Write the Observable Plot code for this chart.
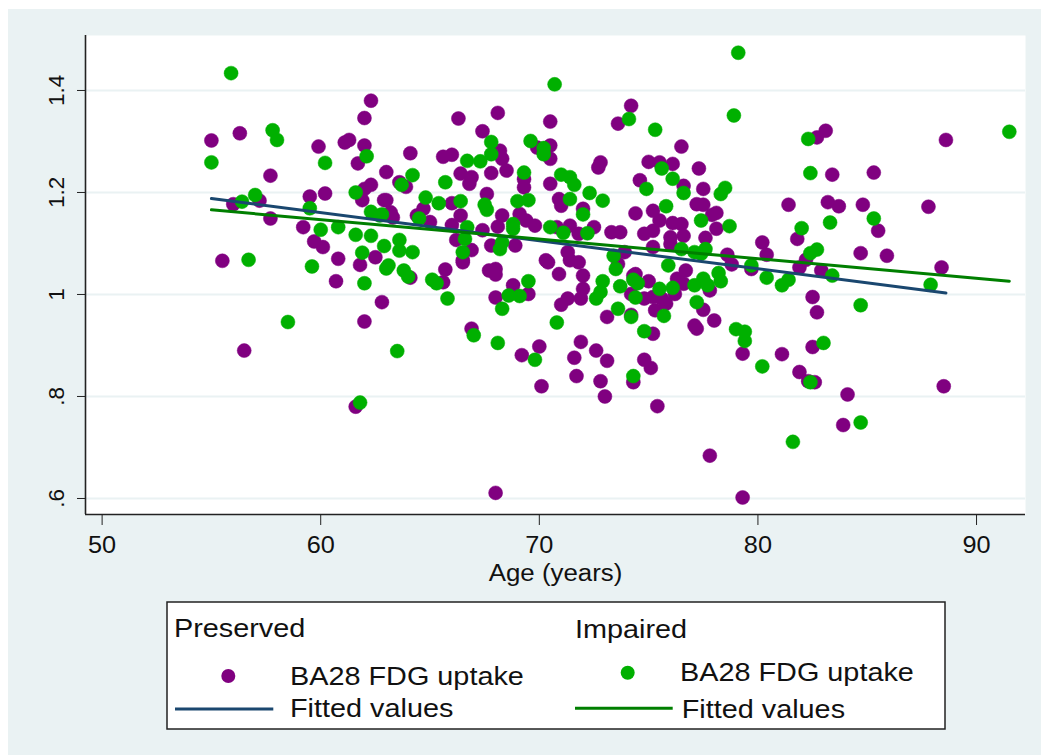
<!DOCTYPE html>
<html>
<head>
<meta charset="utf-8">
<script src="https://cdn.jsdelivr.net/npm/d3@7"></script>
<script src="https://cdn.jsdelivr.net/npm/@observablehq/plot@0.6"></script>
<style>
  html, body { margin: 0; padding: 0; background: #ffffff; }
  #bg { position: absolute; left: 8px; top: 9px; width: 1033px; height: 746px; background: #eaf2f3; }
  #chart { position: absolute; left: 0; top: 0; }
  #legend { position: absolute; left: 0; top: 590px; }
  text { font-family: "Liberation Sans", Arial, sans-serif; }
</style>
</head>
<body>
<div id="bg"></div>
<div id="chart"></div>
<div id="legend"></div>
<script>
// ---------------- DATA ----------------
// Preserved group: age (years) and BA28 FDG uptake
const preservedAge = [
  55.0,56.3,59.9,61.1,61.3,62.0,62.3,62.0,61.7,57.7,63.0,63.6,62.3,62.0,60.2,59.5,61.9,62.9,56.0,57.2,
  57.7,63.2,59.2,59.7,60.1,60.8,62.5,61.8,55.5,60.7,62.8,62.0,56.5,61.6,64.1,65.7,65.6,66.5,67.7,68.0,
  68.0,68.8,69.5,68.0,66.9,69.2,70.0,70.1,68.0,70.4,70.9,71.4,71.8,72.0,72.0,71.9,71.3,71.0,73.1,71.9,
  71.6,72.6,73.1,71.7,72.8,73.0,73.6,74.3,74.4,74.2,74.2,75.0,74.8,75.2,75.6,75.8,75.3,76.2,75.2,74.8,
  75.1,74.3,75.4,76.7,76.6,76.3,77.1,77.2,77.8,77.5,78.0,79.3,81.1,81.9,82.6,82.3,82.5,82.5,82.7,84.1,
  83.9,77.8,79.3,88.5,88.4,79.7,78.8,81.9,82.9,83.1,82.7,88.6,76.5,77.3,83.4,85.3,76.6,77.5,77.5,78.1,
  77.9,81.4,83.2,83.7,84.8,87.8,85.5,78.1,76.5,76.6,77.6,80.2,81.8,80.4,84.7,85.9,82.2,78.6,74.2,73.6,
  66.3,68.1,70.5,67.4,70.5,69.9,70.5,64.1,65.6,66.0,68.2,68.3,68.5,63.9,66.4,66.9,66.8,67.8,67.6,69.3,
  69.3,70.5,72.7,72.8,75.0,75.5,76.1,74.6,64.7,64.4,66.0,66.4,66.0,65.0,68.3,69.1,69.4,69.8,70.9,71.0,
  72.0,70.8,71.4,71.8,72.5,73.3,73.7,74.4,75.2,75.5,76.1,74.8,75.2,76.0,66.2,66.9,66.5,67.4,67.8,68.1,
  68.9,63.0,63.3,70.3,71.3,73.9,75.2,76.0,77.2
];
const preservedUptake = [
  1.302,1.316,1.290,1.298,1.303,1.346,1.380,1.292,1.257,1.233,1.240,1.220,1.215,1.207,1.198,1.192,1.185,1.185,1.177,1.184,
  1.149,1.161,1.132,1.104,1.093,1.070,1.073,1.058,1.066,1.026,0.985,0.947,0.890,0.780,1.033,1.049,1.024,1.063,1.047,1.050,
  1.039,1.018,1.001,0.994,0.933,0.881,0.898,0.820,0.611,1.063,1.040,1.067,1.063,1.037,1.011,0.992,0.992,0.980,0.956,0.907,
  0.876,0.890,0.870,0.840,0.830,0.800,1.060,1.037,1.040,1.001,0.960,1.026,0.992,0.995,0.992,0.982,0.969,1.001,0.923,0.872,
  0.856,0.828,0.781,1.047,1.021,1.031,0.939,0.933,1.008,0.970,0.949,0.884,0.883,0.848,0.828,0.830,0.897,0.995,0.965,0.804,
  0.744,0.684,0.602,0.820,1.053,1.050,1.059,1.053,1.047,1.321,1.308,1.303,1.290,1.247,1.235,1.239,1.213,1.207,1.176,1.160,
  1.156,1.176,1.181,1.173,1.176,1.172,1.125,1.129,1.138,1.115,1.111,1.102,1.109,1.078,1.081,1.076,1.068,1.078,1.370,1.335,
  1.345,1.356,1.339,1.320,1.292,1.288,1.266,1.277,1.270,1.274,1.282,1.266,1.243,1.211,1.237,1.230,1.217,1.238,1.197,1.226,
  1.210,1.217,1.249,1.259,1.260,1.259,1.256,1.224,1.168,1.155,1.179,1.155,1.136,1.142,1.155,1.158,1.145,1.135,1.187,1.174,
  1.168,1.132,1.135,1.119,1.132,1.122,1.122,1.159,1.164,1.145,1.140,1.119,1.125,1.112,1.107,1.087,1.067,1.126,1.096,1.133,
  1.096,1.185,1.151,1.067,1.083,1.083,1.093,1.099,1.177
];
// Impaired group
const impairedAge = [
  55.9,57.8,58.0,62.1,55.0,60.2,63.7,61.6,57.0,56.4,59.5,62.3,62.8,60.0,60.8,61.6,62.3,62.9,61.9,56.7,
  59.6,63.0,63.1,62.0,63.6,63.6,58.5,63.5,61.8,63.8,64.0,65.1,65.3,65.8,69.5,68.6,69.1,68.3,67.0,68.1,
  69.8,70.8,72.9,72.8,72.6,73.7,73.5,74.3,74.5,74.4,73.6,74.2,75.5,76.1,75.7,74.8,74.3,77.1,77.2,75.9,
  77.5,77.7,78.2,78.3,79.0,79.4,79.4,80.2,82.4,83.0,84.7,84.7,81.6,87.9,80.4,81.1,81.4,79.7,83.4,79.1,
  78.9,82.3,91.5,82.4,76.6,78.3,78.5,85.3,77.4,78.7,82.0,83.3,82.4,82.7,77.6,77.4,70.7,74.1,75.3,67.8,
  69.6,70.2,70.2,67.8,66.7,67.3,64.2,65.7,69.3,71.0,71.4,71.6,72.3,72.9,75.6,76.1,74.9,64.8,65.4,66.4,
  64.5,67.5,67.6,69.0,69.5,71.4,72.0,70.5,71.1,72.2,75.8,66.7,66.6,66.5,68.8,68.8,68.3,68.2,64.2,62.7,
  73.4,76.5,77.1
];
const impairedUptake = [
  1.434,1.322,1.303,1.271,1.259,1.258,1.215,1.200,1.195,1.182,1.169,1.162,1.157,1.127,1.132,1.117,1.115,1.095,1.082,1.068,
  1.055,1.051,1.057,1.022,1.107,1.086,0.946,0.889,0.788,1.047,1.035,1.029,1.022,0.992,1.026,0.998,0.997,0.972,0.920,0.905,
  0.872,0.945,1.026,1.005,0.992,1.016,1.050,1.029,1.022,0.994,0.972,0.956,1.011,1.013,0.958,0.928,0.840,1.018,0.985,1.057,
  1.031,1.018,1.042,1.026,0.932,0.927,0.909,0.859,0.828,0.905,0.979,0.749,0.711,1.019,1.033,1.018,1.029,1.057,1.037,1.474,
  1.351,1.305,1.319,1.238,1.199,1.197,1.209,1.149,1.145,1.134,1.130,1.141,1.081,1.088,1.089,1.080,1.412,1.344,1.323,1.299,
  1.301,1.287,1.275,1.275,1.262,1.261,1.234,1.220,1.239,1.235,1.230,1.215,1.199,1.184,1.247,1.227,1.207,1.190,1.179,1.183,
  1.149,1.176,1.166,1.183,1.185,1.187,1.157,1.132,1.121,1.120,1.173,1.132,1.109,1.083,1.138,1.129,1.102,1.089,1.083,1.155,
  1.076,1.089,1.083
];
// Fitted values (line endpoints)
const preservedFitAge = [55.0, 88.6];
const preservedFitValue = [1.188, 1.003];
const impairedFitAge = [55.0, 91.5];
const impairedFitValue = [1.166, 1.026];

// Axes
const xTicks = [50, 60, 70, 80, 90];
const yTicks = [0.6, 0.8, 1.0, 1.2, 1.4];
const xDomain = [49.24, 92.24];
const yDomain = [0.5686, 1.5078];
const xLabel = "Age (years)";

// Legend
const legendGroups = ["Preserved", "Impaired"];
const legendScatterLabel = "BA28 FDG uptake";
const legendFitLabel = "Fitted values";

// Colours
const purple = "#800080";
const green = "#00b000";
const navy = "#1a476f";
const darkGreen = "#007f00";
const bgColor = "#eaf2f3";

// ---------------- BUILD ----------------
const preserved = preservedAge.map((a, i) => ({age: a, v: preservedUptake[i]}));
const impaired = impairedAge.map((a, i) => ({age: a, v: impairedUptake[i]}));
const preservedFit = preservedFitAge.map((a, i) => ({age: a, v: preservedFitValue[i]}));
const impairedFit = impairedFitAge.map((a, i) => ({age: a, v: impairedFitValue[i]}));

const fmtY = d => String(+d.toFixed(1)).replace(/^0\./, ".");
const font = '"Liberation Sans", Arial, sans-serif';

const plot = Plot.plot({
  width: 1041,
  height: 600,
  marginTop: 35,
  marginLeft: 85,
  marginRight: 16,
  marginBottom: 86,
  style: {background: "transparent", fontFamily: font, overflow: "visible"},
  x: {domain: xDomain},
  y: {domain: yDomain},
  marks: [
    Plot.frame({fill: "white", stroke: "none"}),
    Plot.gridY(yTicks, {stroke: bgColor, strokeOpacity: 1, strokeWidth: 2}),
    Plot.dot(preserved, {x: "age", y: "v", r: 7, fill: purple, stroke: purple, strokeWidth: 0.5}),
    Plot.dot(impaired, {x: "age", y: "v", r: 7, fill: green, stroke: green, strokeWidth: 0.5}),
    Plot.line(preservedFit, {x: "age", y: "v", stroke: navy, strokeWidth: 3}),
    Plot.line(impairedFit, {x: "age", y: "v", stroke: darkGreen, strokeWidth: 3}),
    Plot.ruleX([xDomain[0]], {stroke: "#222", strokeWidth: 1.6}),
    Plot.ruleY([yDomain[0]], {stroke: "#222", strokeWidth: 1.6}),
    Plot.axisY({ticks: yTicks, tickFormat: fmtY, tickRotate: -90, tickSize: 8, tickPadding: 13.5,
                fontSize: 22.5, stroke: "#222", fill: "#111", label: null}),
    Plot.axisX({ticks: xTicks, tickSize: 11, tickPadding: 11, fontSize: 23, stroke: "#222", fill: "#111",
                label: xLabel, labelAnchor: "center", labelArrow: "none", labelOffset: 66})
  ]
});
document.getElementById("chart").appendChild(plot);

// horizontal stretch for texts (reference glyphs are slightly wide)
function stretch(sel, k) {
  sel.each(function () {
    const L = this.getComputedTextLength();
    if (L > 0) {
      this.setAttribute("textLength", L * k);
      this.setAttribute("lengthAdjust", "spacingAndGlyphs");
    }
  });
}
const svgSel = d3.select(plot);
svgSel.selectAll('g[aria-label="x-axis label"] text').style("font-size", "23.5px");
stretch(svgSel.selectAll('g[aria-label="x-axis tick label"] text'), 1.1);
stretch(svgSel.selectAll('g[aria-label="x-axis label"] text'), 1.1);

// ---------------- LEGEND ----------------
const oy = 590;
const leg = d3.select("#legend").append("svg")
  .attr("width", 1041).attr("height", 165)
  .style("font-family", font);
leg.append("rect").attr("x", 167).attr("y", 602 - oy).attr("width", 778).attr("height", 127)
  .attr("fill", "white").attr("stroke", "#222").attr("stroke-width", 1.5);

const cols = [
  {title: legendGroups[0], tx: 174, ty: 636.7, mx: 228.3, my: 676, dotColor: purple,
   sx: 290, sy: 685, lx1: 175, lx2: 273.3, ly: 709, lineColor: navy, fx: 290, fy: 716.7},
  {title: legendGroups[1], tx: 575, ty: 638, mx: 627.7, my: 672.7, dotColor: green,
   sx: 680, sy: 681, lx1: 575, lx2: 672.7, ly: 708.3, lineColor: darkGreen, fx: 681.7, fy: 718.3}
];
const texts = [];
cols.forEach(c => {
  texts.push(leg.append("text").attr("x", c.tx).attr("y", c.ty - oy).attr("font-size", 25.5).attr("fill", "#111").text(c.title).node());
  leg.append("circle").attr("cx", c.mx).attr("cy", c.my - oy).attr("r", 7).attr("fill", c.dotColor);
  texts.push(leg.append("text").attr("x", c.sx).attr("y", c.sy - oy).attr("font-size", 25.5).attr("fill", "#111").text(legendScatterLabel).node());
  leg.append("line").attr("x1", c.lx1).attr("x2", c.lx2).attr("y1", c.ly - oy).attr("y2", c.ly - oy)
    .attr("stroke", c.lineColor).attr("stroke-width", 3);
  texts.push(leg.append("text").attr("x", c.fx).attr("y", c.fy - oy).attr("font-size", 25.5).attr("fill", "#111").text(legendFitLabel).node());
});
stretch(d3.selectAll(texts), 1.13);
</script>
</body>
</html>
